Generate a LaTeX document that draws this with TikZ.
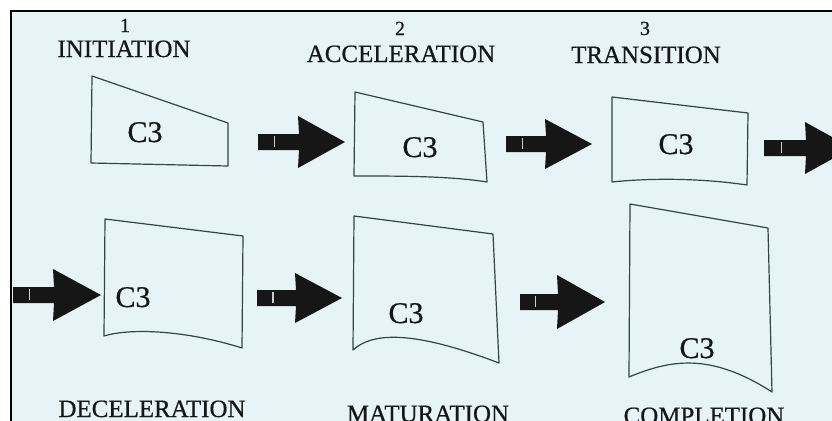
\documentclass[tikz,border=0pt]{standalone}
\usepackage{fontspec}
\setmainfont{Liberation Serif}[FakeBold=0.6]
\definecolor{bgc}{RGB}{230,244,247}
\definecolor{linec}{RGB}{45,70,72}
\definecolor{inkc}{RGB}{22,22,22}
\definecolor{tickc}{RGB}{200,205,205}
\newcommand\myblockarrow[5]{%
  \fill[inkc] (#1,#4-8) -- (#2+1,#4-8) -- (#2,#4-#5) -- (#3,#4) -- (#2,#4+#5) -- (#2+1,#4+8) -- (#1,#4+8) -- cycle;
  \draw[tickc, line width=1pt] ({#1+0.42*(#2-#1)},#4-6) -- ++(0,11);
}
\begin{document}
\begin{tikzpicture}[x=0.75pt,y=-0.75pt,
  lbl/.style={font=\fontsize{18.7}{20}\selectfont, text=inkc, inner sep=0pt, anchor=base},
  num/.style={font=\fontsize{15}{16}\selectfont, text=inkc, inner sep=0pt, anchor=base},
  ctext/.style={font=\fontsize{22.5}{24}\selectfont, text=inkc, inner sep=0pt, anchor=base},
  boxline/.style={draw=linec, line width=0.9pt, line join=round}]
\useasboundingbox (0,0) rectangle (832,421);
\clip (0,0) rectangle (832,421);
\fill[white] (0,0) rectangle (832,421);
\fill[bgc] (11,11) rectangle (850,440);
\draw[black, line width=1.1pt] (11,440) -- (11,11) -- (850,11);

% top labels
\node[num] (n1) at (125,32) {1};
\node[lbl] (l1) at (124,57) {INITIATION};
\node[num] (n2) at (400,35) {2};
\node[lbl] (l2) at (401,62) {ACCELERATION};
\node[num] (n3) at (645,35) {3};
\node[lbl] (l3) at (646,63) {TRANSITION};

% bottom labels
\node[lbl] (l4) at (152,417) {DECELERATION};
\node[lbl] (l5) at (428,422) {MATURATION};
\node[lbl] (l6) at (704,424) {COMPLETION};

% boxes
\draw[boxline] (92,76) -- (228,123) -- (228,166) -- (91,163) -- cycle;
\draw[boxline] (355,92) -- (483,122) -- (487,182) .. controls (450,176) and (400,176) .. (354,176) -- cycle;
\draw[boxline] (612,97) -- (748,113) -- (747,185) .. controls (700,178) and (650,178) .. (612,182) -- cycle;
\draw[boxline] (105,219) -- (243,236) -- (242,348) .. controls (185,330) and (130,328) .. (104,336) -- cycle;
\draw[boxline] (354,216) -- (493,234) -- (499,363) .. controls (420,333) and (375,330) .. (353,350) -- cycle;
\draw[boxline] (630,204) -- (768,228) -- (772,392) .. controls (710,352) and (670,360) .. (629,377) -- cycle;

% box texts
\node[ctext] (c1) at (145,142) {C3};
\node[ctext] (c2) at (420,157) {C3};
\node[ctext] (c3) at (676,154) {C3};
\node[ctext] (c4) at (133,307) {C3};
\node[ctext] (c5) at (406,323) {C3};
\node[ctext] (c6) at (697,358) {C3};

% block arrows
\myblockarrow{258}{298}{345}{142}{26}
\myblockarrow{506}{545}{592}{144}{25}
\myblockarrow{764}{805}{852}{148}{26}
\myblockarrow{13}{53}{101}{295}{26}
\myblockarrow{257}{295}{342}{298}{25}
\myblockarrow{520}{557}{605}{302}{27}
\end{tikzpicture}
\end{document}
